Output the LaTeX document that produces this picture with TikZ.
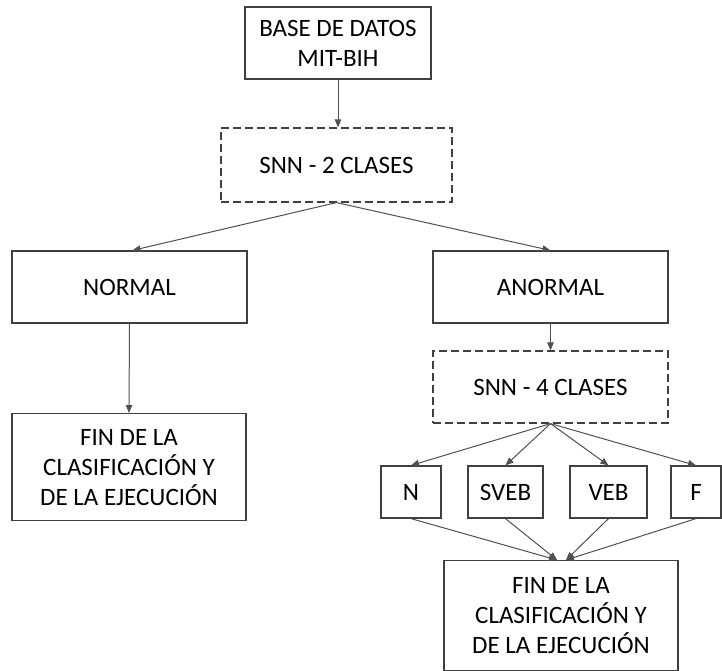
\documentclass[tikz,border=0pt]{standalone}
\usepackage{fontspec}
\setmainfont{Carlito}
\usetikzlibrary{arrows.meta,calc}
\definecolor{boxline}{HTML}{404040}
\definecolor{arrline}{HTML}{505050}
\tikzset{
  solidbox/.style={draw=boxline, line width=1.2pt, inner sep=0pt, align=center,
    font=\fontsize{25}{30}\selectfont, text=black},
  dashbox/.style={solidbox, dash pattern=on 8pt off 4pt},
  conn/.style={draw=arrline, line width=1pt, -{Triangle[length=8pt,width=6.5pt]}},
}
\begin{document}
\begin{tikzpicture}[x=1pt,y=-1pt]
\useasboundingbox (0,0) rectangle (722,671);
\node[solidbox, minimum width=186pt, minimum height=72pt] (base) at (338,43) {BASE DE DATOS\\MIT-BIH};
\node[dashbox, minimum width=231pt, minimum height=74pt] (snn2) at (336.5,165) {SNN - 2 CLASES};
\node[solidbox, minimum width=235pt, minimum height=72pt] (normal) at (129.5,287) {NORMAL};
\node[solidbox, minimum width=235pt, minimum height=72pt] (anormal) at (550.5,287) {ANORMAL};
\node[solidbox, minimum width=234pt, minimum height=107pt, anchor=north] (fin1) at (129,413) {FIN DE LA\\CLASIFICACIÓN Y\\DE LA EJECUCIÓN};
\node[dashbox, minimum width=235pt, minimum height=72pt] (snn4) at (550.5,387) {SNN - 4 CLASES};
\node[solidbox, minimum width=60pt, minimum height=52pt] (n) at (411,492) {N};
\node[solidbox, minimum width=75pt, minimum height=52pt] (sveb) at (505.5,492) {SVEB};
\node[solidbox, minimum width=77pt, minimum height=52pt] (veb) at (608.5,492) {VEB};
\node[solidbox, minimum width=50pt, minimum height=52pt] (f) at (696,492) {F};
\node[solidbox, minimum width=234pt, minimum height=110pt, anchor=north] (fin2) at (561,560) {FIN DE LA\\CLASIFICACIÓN Y\\DE LA EJECUCIÓN};
\coordinate (inL) at ($(fin2.north)+(-4,0)$);
\coordinate (inR) at ($(fin2.north)+(5,0)$);
\draw[conn] (base.south) -- (base.south |- snn2.north);
\draw[conn] (snn2.south) -- ($(normal.north)+(3,0)$);
\draw[conn] (snn2.south) -- (anormal.north);
\draw[conn] (normal.south) -- (fin1.north);
\draw[conn] (anormal.south) -- (snn4.north);
\draw[conn] (snn4.south) -- (n.north);
\draw[conn] (snn4.south) -- (sveb.north);
\draw[conn] (snn4.south) -- (veb.north);
\draw[conn] (snn4.south) -- (f.north);
\draw[conn] (n.south) -- (inL);
\draw[conn] (sveb.south) -- (inL);
\draw[conn] (veb.south) -- (inR);
\draw[conn] (f.south) -- (inR);
\end{tikzpicture}
\end{document}
